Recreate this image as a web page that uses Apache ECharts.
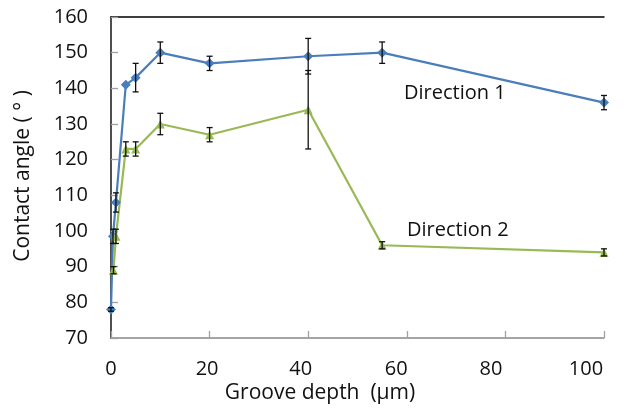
<!DOCTYPE html>
<html><head><meta charset="utf-8">
<script src="https://cdn.jsdelivr.net/npm/echarts@6/dist/echarts.min.js"></script>
<style>html,body{margin:0;padding:0;background:#fff}#c{width:637px;height:416px}</style>
</head><body><div id="c"></div>
<script>
// Data
const depth1 = [0, 0.4, 1, 3, 5, 10, 20, 40, 55, 100];
const angle1 = [78, 98.5, 108, 141, 143, 150, 147, 149, 150, 136];
const err1   = [0.5, 2, 2.7, 0, 4, 3, 2, 5, 3, 2];
const depth2 = [0.5, 1, 3, 5, 10, 20, 40, 55, 100];
const angle2 = [89, 98.5, 123, 123, 130, 127, 134, 96, 94];
const err2   = [1, 2, 2, 2, 3, 2, 11, 1, 1];
const xTicks = [0, 20, 40, 60, 80, 100];
const yTicks = [70, 80, 90, 100, 110, 120, 130, 140, 150, 160];
const seriesNames = ['Direction 1', 'Direction 2'];

const FONT = '"Open Sans"';
const blue = '#4a7ebb', green = '#98b954';

function pts(xs, ys) { return xs.map((x, i) => [x, ys[i]]); }
function errData(xs, ys, es) { return xs.map((x, i) => [x, ys[i] - es[i], ys[i] + es[i]]).filter((d, i) => es[i] > 0); }

function errRender(params, api) {
  const x = api.value(0);
  const lo = api.coord([x, api.value(1)]);
  const hi = api.coord([x, api.value(2)]);
  const w = 3;
  const st = { stroke: '#111', lineWidth: 1.3 };
  return { type: 'group', children: [
    { type: 'line', shape: { x1: lo[0], y1: lo[1], x2: hi[0], y2: hi[1] }, style: st },
    { type: 'line', shape: { x1: lo[0] - w, y1: lo[1], x2: lo[0] + w, y2: lo[1] }, style: st },
    { type: 'line', shape: { x1: hi[0] - w, y1: hi[1], x2: hi[0] + w, y2: hi[1] }, style: st }
  ]};
}

// label drift of the original axis labels (style only)
const shiftPad = {0: 0, 20: 5, 40: 15, 60: 21, 80: 29, 100: 36};
const rich = {};
xTicks.forEach(t => { rich['s' + t] = { fontFamily: FONT, fontSize: 20, color: '#111', padding: [0, shiftPad[t], 0, 0] }; });

const chart = echarts.init(document.getElementById('c'), null, { renderer: 'canvas' });
chart.setOption({
  animation: false,
  backgroundColor: '#fff',
  grid: { left: 111, top: 17, right: 33, bottom: 78 },
  xAxis: [{
    type: 'value', min: xTicks[0], max: xTicks[xTicks.length - 1], interval: 20,
    axisLine: { lineStyle: { color: '#868686', width: 1.5 } },
    axisTick: { inside: true, length: 7, lineStyle: { color: '#a0a0a0', width: 1.3 } },
    splitLine: { show: false },
    axisLabel: { margin: 21, formatter: v => '{s' + v + '|' + v + '}', rich: rich }
  }, {
    type: 'value', position: 'top', min: 0, max: 100,
    axisLine: { show: true, lineStyle: { color: '#000', width: 1.5 } },
    axisTick: { show: false }, axisLabel: { show: false }, splitLine: { show: false }
  }],
  yAxis: [{
    type: 'value', min: yTicks[0], max: yTicks[yTicks.length - 1], interval: 10,
    axisLine: { show: true, lineStyle: { color: '#868686', width: 1.5 } },
    axisTick: { show: true, inside: true, length: 7, lineStyle: { color: '#a0a0a0', width: 1.3 } },
    splitLine: { show: false },
    axisLabel: { margin: 23, fontFamily: FONT, fontSize: 20, color: '#111' }
  }, {
    type: 'value', position: 'right', min: 70, max: 160,
    axisLine: { show: true, lineStyle: { color: '#333', width: 1.5 } },
    axisTick: { show: false }, axisLabel: { show: false }, splitLine: { show: false }
  }],
  series: [
    { name: seriesNames[0], type: 'line', data: pts(depth1, angle1), symbol: 'diamond', symbolSize: 10,
      itemStyle: { color: blue }, lineStyle: { color: blue, width: 2.2 }, z: 3 },
    { name: seriesNames[1], type: 'line', data: pts(depth2, angle2), symbol: 'triangle', symbolSize: 9,
      itemStyle: { color: green }, lineStyle: { color: green, width: 2.2 }, z: 3 },
    { type: 'custom', renderItem: errRender, data: errData(depth1, angle1, err1), encode: { x: 0, y: [1, 2] }, z: 5 },
    { type: 'custom', renderItem: errRender, data: errData(depth2, angle2, err2), encode: { x: 0, y: [1, 2] }, z: 5 }
  ],
  graphic: [
    { type: 'text', left: 404, top: 83, style: { text: seriesNames[0], font: '20px ' + FONT, fill: '#111' } },
    { type: 'text', left: 407, top: 220, style: { text: seriesNames[1], font: '20px ' + FONT, fill: '#111' } },
    { type: 'text', x: 320, y: 383, style: { text: 'Groove depth  (\u03bcm)', font: '21px ' + FONT, fill: '#111', textAlign: 'center', textVerticalAlign: 'top' } },
    { type: 'text', x: 13, y: 176, rotation: Math.PI / 2, style: { text: 'Contact angle ( \u00b0 )', font: '21px ' + FONT, fill: '#111', textAlign: 'center', textVerticalAlign: 'top' } }
  ]
});
</script></body></html>
